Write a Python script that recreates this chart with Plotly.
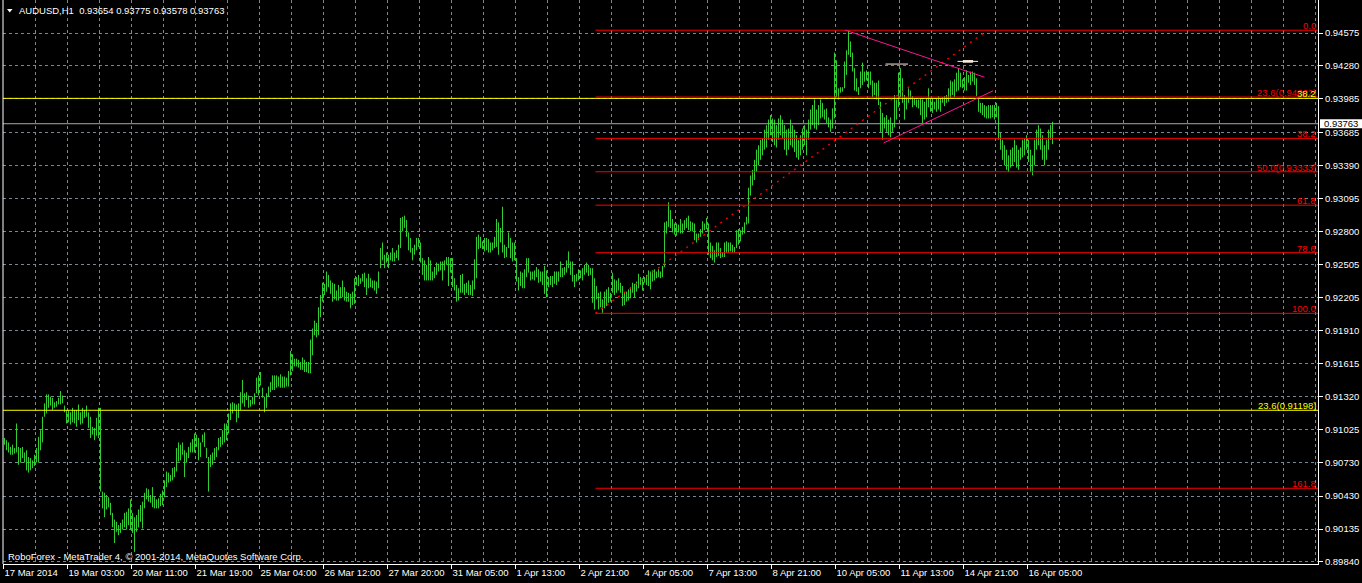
import plotly.graph_objects as go

# ---------------- data ----------------
symbol_title = "AUDUSD,H1"
last_ohlc = ["0.93654", "0.93775", "0.93578", "0.93763"]
bid_price = 0.93763
copyright_text = "RoboForex - MetaTrader 4, \u00a9 2001-2014, MetaQuotes Software Corp."

x_tick_bars = [0, 32, 64, 96, 128, 160, 192, 224, 256, 288, 320, 352, 384, 416, 448, 480, 512]
x_tick_labels = ["17 Mar 2014", "19 Mar 03:00", "20 Mar 11:00", "21 Mar 19:00", "25 Mar 04:00",
                 "26 Mar 12:00", "27 Mar 20:00", "31 Mar 05:00", "1 Apr 13:00", "2 Apr 21:00",
                 "4 Apr 05:00", "7 Apr 13:00", "8 Apr 21:00", "10 Apr 05:00", "11 Apr 13:00",
                 "14 Apr 21:00", "16 Apr 05:00"]
y_tick_values = [0.94575, 0.94280, 0.93985, 0.93685, 0.93390, 0.93095, 0.92800, 0.92505, 0.92205,
                 0.91910, 0.91615, 0.91320, 0.91025, 0.90730, 0.90430, 0.90135, 0.89840]
y_tick_labels = ["%.5f" % v for v in y_tick_values]

# H1 bar highs / lows in pips (x 0.0001)
high_pips = [
 9095,9093,9091,9087,9089,9086,9108,9087,9086,9087,9082,9084,9078,9077,9075,9080,9086,9096,9102,9114,
 9126,9134,9134,9132,9131,9127,9128,9131,9137,9133,9124,9120,9120,9118,9122,9120,9120,9125,9118,9122,
 9120,9124,9118,9114,9105,9104,9113,9122,9122,
 9047,9046,9044,9042,9037,9028,9022,9020,9017,9019,9022,9028,9029,9032,9040,9028,9024,9026,9031,9035,
 9038,9046,9050,9049,9044,9051,9042,9040,9041,9045,9048,9057,9065,9064,9062,9068,9069,9086,9091,9089,
 9091,9084,9082,9087,9091,9094,9099,9098,9095,9091,9098,9100,9086,9078,9080,9082,9086,9087,9095,9096,
 9102,9108,9108,9117,9126,9127,9126,9125,9126,9136,9147,9135,9136,9133,9129,9132,9135,9149,9151,9154,
 9140,9132,9135,9141,9145,9151,
 9151,9151,9150,9152,9150,9150,9149,9155,9173,9170,9166,9166,9165,9163,9167,9165,9163,9163,9183,9193,
 9200,9198,9212,9223,9234,9233,9244,9241,9236,9234,9233,9227,9232,9230,9236,9230,9226,9225,9224,9226,
 9238,9239,9241,9238,9242,9243,9238,9242,9238,9236,9236,9235,9244,9265,9270,9259,9261,9259,9261,9265,
 9261,9263,9268,9292,9293,9294,9290,9279,9274,9265,9268,9274,9274,9270,9256,9254,9250,9257,9254,9244,
 9248,9252,9251,9253,9253,9254,9257,9257,9256,9256,9238,9232,9229,9241,9242,9233,9234,9236,9232,9236,
 9255,9275,9277,9275,9271,9274,9274,9273,9270,9270,9275,9291,9288,9283,9302,9268,9266,9279,9274,9270,
 9270,9256,9239,9244,9243,9246,9256,9256,9244,9244,9245,9248,9246,9244,9244,9249,9245,9239,9240,9240,
 9244,9244,9244,9253,9247,9248,9254,9262,9253,9253,9241,9242,9246,9245,9247,9250,9252,9250,9247,9247,
 9238,9231,9225,9226,
 9219,9226,9228,9230,9225,9243,9237,9236,9238,9234,9231,9225,9226,9228,9230,9234,9233,9235,9242,9239,
 9238,9239,9241,9245,9244,9245,9246,9244,9246,9244,9249,9288,9289,9306,9299,9291,9287,9287,9286,9291,
 9287,9290,9292,9294,9289,9288,9287,9278,9278,9282,9289,9287,9292,9287,9270,9267,9263,9270,9270,9265,
 9261,9270,9271,9270,9270,9268,9266,9281,9282,9281,9284,9288,9293,9319,
 9330,9335,9344,9353,9357,9362,9363,9371,9375,9380,9384,9381,9380,9375,9381,9384,9380,9375,9371,9372,
 9380,9375,9371,9366,9362,9366,9372,9375,9371,9380,9389,9393,9398,9389,9393,9398,
 9395,9389,9390,9382,9380,9390,9440,9433,9408,9409,9409,9432,9442,9460,9450,9440,9426,9417,9409,9423,
 9431,9423,9424,9423,9423,9415,9413,9413,9415,9396,9386,9382,9384,9380,9382,9377,9402,9398,9422,9426,
 9417,9402,9400,9408,9406,9401,9399,9398,9398,9399,9398,9396,9399,9408,9399,9399,9396,9399,9401,9399,
 9400,9401,9402,9408,9415,9414,9416,9422,9426,9422,9416,9418,9424,9420,9423,9423,9422,9417,9399,9395,
 9395,9393,9392,9393,9393,9393,9393,9395,9392,9368,
 9362,9357,9353,9348,9353,9355,9362,9357,9353,9355,9362,9363,9366,9362,9353,9348,9362,9371,9375,9372,
 9366,9357,9362,9371,9375,9378]
low_pips = [
 9089,9084,9082,9080,9080,9081,9082,9071,9073,9077,9073,9066,9064,9066,9068,9070,9073,9073,9084,9091,
 9114,9117,9122,9124,9120,9122,9123,9125,9125,9126,9118,9108,9109,9107,9109,9108,9105,9111,9107,9108,
 9113,9114,9104,9095,9098,9093,9097,9095,9047,
 9032,9024,9031,9033,9026,9015,9001,9011,9008,9010,9013,9015,9013,9017,9013,9010,8993,9011,9015,9020,
 9014,9032,9040,9038,9037,9033,9032,9032,9032,9034,9035,9042,9051,9055,9056,9057,9060,9065,9074,9075,
 9080,9060,9073,9077,9082,9082,9082,9087,9075,9078,9091,9087,9077,9047,9069,9071,9075,9078,9084,9087,
 9089,9091,9093,9099,9111,9117,9120,9109,9113,9120,9126,9123,9129,9122,9123,9125,9125,9135,9133,9142,
 9131,9118,9122,9132,9136,9138,
 9138,9140,9141,9140,9140,9140,9141,9141,9151,9155,9159,9159,9158,9156,9156,9154,9154,9153,9153,9169,
 9187,9185,9187,9203,9217,9223,9226,9230,9224,9217,9219,9218,9218,9220,9221,9218,9217,9217,9211,9214,
 9215,9232,9231,9233,9235,9230,9223,9229,9230,9229,9227,9224,9229,9247,9254,9247,9252,9247,9254,9253,
 9253,9256,9254,9265,9280,9283,9275,9263,9261,9254,9259,9263,9266,9252,9241,9236,9236,9236,9236,9236,
 9238,9241,9244,9245,9236,9245,9250,9231,9243,9230,9227,9217,9218,9225,9225,9223,9225,9223,9223,9222,
 9228,9238,9264,9265,9264,9262,9263,9261,9261,9263,9265,9266,9259,9270,9261,9256,9257,9265,9256,9253,
 9254,9235,9227,9231,9229,9229,9239,9243,9236,9237,9236,9239,9234,9235,9232,9224,9221,9230,9232,9230,
 9233,9232,9235,9239,9239,9241,9243,9247,9241,9235,9230,9235,9236,9238,9236,9241,9243,9240,9241,9216,
 9210,9219,9210,9212,
 9207,9211,9213,9216,9217,9225,9223,9225,9227,9225,9213,9214,9217,9218,9220,9225,9221,9226,9229,9232,
 9227,9234,9232,9231,9228,9235,9236,9238,9239,9238,9239,9248,9278,9284,9283,9279,9277,9276,9279,9278,
 9278,9281,9283,9281,9280,9280,9272,9270,9272,9275,9278,9281,9282,9259,9256,9254,9252,9257,9258,9256,
 9257,9257,9261,9261,9262,9261,9261,9265,9268,9271,9277,9278,9286,9287,
 9312,9321,9326,9333,9339,9344,9348,9353,9355,9362,9366,9360,9357,9355,9362,9366,9363,9353,9348,9353,
 9357,9355,9351,9346,9344,9348,9353,9357,9348,9362,9371,9375,9372,9371,9375,9381,
 9382,9380,9377,9373,9369,9372,9381,9400,9398,9404,9405,9408,9420,9438,9436,9423,9406,9405,9402,9408,
 9411,9414,9415,9408,9411,9400,9402,9398,9393,9369,9362,9372,9369,9366,9364,9369,9373,9380,9391,9400,
 9395,9380,9389,9395,9398,9391,9393,9391,9390,9384,9377,9380,9382,9391,9387,9386,9389,9387,9389,9387,
 9395,9392,9395,9396,9399,9402,9400,9405,9406,9409,9408,9406,9406,9413,9411,9414,9411,9401,9387,9386,
 9384,9382,9381,9381,9381,9382,9380,9382,9362,9353,
 9344,9339,9335,9333,9337,9339,9342,9337,9335,9344,9346,9348,9353,9342,9333,9330,9339,9353,9357,9353,
 9344,9339,9344,9353,9362,9358]

# red Fibonacci (2 Apr low -> 10 Apr high)
fib_red_start_bar = 295.5
fib_red_p100 = 0.92066
fib_red_p0 = 0.94600
fib_red_levels = [0.0, 23.6, 38.2, 50.0, 61.8, 78.6, 100.0, 161.8]
fib_red_texts = ["0.0", "23.6(0.94002)", "38.2", "50.0(0.93333)", "61.8", "78.6", "100.0", "161.8"]
# yellow Fibonacci (large swing, only two levels visible)
fib_yel_p0 = 0.86685
fib_yel_p100 = 1.05808
fib_yel_levels = [23.6, 38.2]
fib_yel_texts = ["23.6(0.91198)", "38.2"]

# drawn objects (bar index, price)
trend_dotted = [(295.5, 0.92066), (491.5, 0.94600)]
pink_upper = [(420.5, 0.94600), (490.0, 0.94179)]
pink_lower = [(439.5, 0.93590), (494.3, 0.94058)]
white_seg1 = [(440.5, 0.94297), (451.8, 0.94297)]
white_seg2 = [(476.5, 0.94321), (486.8, 0.94321)]
white_box = [(479.2, 0.94309), (484.3, 0.94333)]

# ---------------- styling ----------------
BG = "#000000"
BAR = "#32cd32"
GRID = "#778899"
FONT = "Liberation Sans"
FS = 9.5
X_RANGE = [-0.75, 656.75]
Y_RANGE = [0.898220, 0.948704]

xs, ys = [], []
for i, (h, l) in enumerate(zip(high_pips, low_pips)):
    xs += [i, i, None]
    ys += [l / 10000.0, h / 10000.0, None]

fig = go.Figure()
fig.add_trace(go.Scatter(x=xs, y=ys, mode="lines", line=dict(color=BAR, width=1),
                         hoverinfo="skip", showlegend=False))

shapes = []
annots = []

# yellow fib lines (full width)
for lvl, txt in zip(fib_yel_levels, fib_yel_texts):
    p = fib_yel_p0 + lvl / 100.0 * (fib_yel_p100 - fib_yel_p0)
    shapes.append(dict(type="line", xref="x", yref="y", x0=X_RANGE[0], x1=X_RANGE[1], y0=p, y1=p,
                       line=dict(color="#ffff00", width=1)))

# red fib lines
for lvl, txt in zip(fib_red_levels, fib_red_texts):
    p = fib_red_p0 - lvl / 100.0 * (fib_red_p0 - fib_red_p100)
    shapes.append(dict(type="line", xref="x", yref="y", x0=fib_red_start_bar, x1=X_RANGE[1], y0=p, y1=p,
                       line=dict(color="#ff0000", width=1)))
    annots.append(dict(xref="paper", yref="y", x=1, y=p, xanchor="right", yanchor="bottom",
                       text=txt, showarrow=False, borderpad=0, xshift=-1, yshift=-2,
                       font=dict(family=FONT, size=FS, color="#ff0000")))
for lvl, txt in zip(fib_yel_levels, fib_yel_texts):
    p = fib_yel_p0 + lvl / 100.0 * (fib_yel_p100 - fib_yel_p0)
    annots.append(dict(xref="paper", yref="y", x=1, y=p, xanchor="right", yanchor="bottom",
                       text=txt, showarrow=False, borderpad=0, xshift=-1, yshift=-2,
                       font=dict(family=FONT, size=FS, color="#ffff00")))

# bid line
shapes.append(dict(type="line", xref="paper", yref="y", x0=0, x1=1, y0=bid_price, y1=bid_price,
                   line=dict(color="#a0a8b0", width=1)))

# dotted trend line
shapes.append(dict(type="line", xref="x", yref="y",
                   x0=trend_dotted[0][0], y0=trend_dotted[0][1], x1=trend_dotted[1][0], y1=trend_dotted[1][1],
                   line=dict(color="#ff0000", width=1.3, dash="2px,5px")))
# pink triangle lines
for seg in (pink_upper, pink_lower):
    shapes.append(dict(type="line", xref="x", yref="y", x0=seg[0][0], y0=seg[0][1], x1=seg[1][0], y1=seg[1][1],
                       line=dict(color="#ff1493", width=1)))
# white marks
for seg in (white_seg1, white_seg2):
    shapes.append(dict(type="line", xref="x", yref="y", x0=seg[0][0], y0=seg[0][1], x1=seg[1][0], y1=seg[1][1],
                       line=dict(color="#faebd7", width=1)))
shapes.append(dict(type="rect", xref="x", yref="y", x0=white_box[0][0], y0=white_box[0][1],
                   x1=white_box[1][0], y1=white_box[1][1], fillcolor="#faebd7", line=dict(width=0)))

# left border
shapes.append(dict(type="line", xref="paper", yref="paper", x0=0, x1=0, y0=0, y1=1,
                   line=dict(color="#ffffff", width=1)))

# bid price box on the axis
shapes.append(dict(type="rect", xref="paper", yref="y", xsizemode="pixel", xanchor=1, x0=2, x1=60,
                   ysizemode="pixel", yanchor=bid_price, y0=-4.5, y1=4.5,
                   fillcolor="#ffffff", line=dict(width=0)))
annots.append(dict(xref="paper", yref="y", x=1, y=bid_price, xanchor="left", yanchor="middle",
                   xshift=5, text="%.5f" % bid_price, showarrow=False, borderpad=0,
                   font=dict(family=FONT, size=FS, color="#000000")))

# title triangle + text
shapes.append(dict(type="path", xref="paper", yref="paper", xsizemode="pixel", ysizemode="pixel",
                   xanchor=0, yanchor=1, path="M 4,-9 L 9.5,-9 L 6.75,-12.5 Z",
                   fillcolor="#ffffff", line=dict(width=0)))
annots.append(dict(xref="paper", yref="paper", x=0, y=1, xanchor="left", yanchor="top",
                   xshift=15, yshift=-4, showarrow=False, borderpad=0,
                   text=symbol_title + "\u00a0\u00a0" + " ".join(last_ohlc),
                   font=dict(family=FONT, size=FS, color="#ffffff")))
# copyright
annots.append(dict(xref="paper", yref="paper", x=0, y=0, xanchor="left", yanchor="bottom",
                   xshift=4, yshift=1, showarrow=False, borderpad=0, text=copyright_text,
                   font=dict(family=FONT, size=FS, color="#ffffff")))

fig.update_layout(
    width=1362, height=583, autosize=False,
    margin=dict(l=3, r=44, t=0, b=19, pad=0),
    paper_bgcolor=BG, plot_bgcolor=BG,
    showlegend=False, shapes=shapes, annotations=annots,
    font=dict(family=FONT, size=FS, color="#ffffff"),
    xaxis=dict(range=X_RANGE, tickmode="array", tickvals=[b - 0.5 for b in x_tick_bars],
               ticktext=x_tick_labels, ticks="outside", ticklen=4, tickcolor="#ffffff",
               ticklabelposition="outside right", tickangle=0, automargin=False,
               showline=True, linecolor="#ffffff", linewidth=1,
               showgrid=True, gridcolor=GRID, griddash="3px,3px", gridwidth=1,
               minor=dict(tick0=-0.5, dtick=16, showgrid=True, gridcolor=GRID, griddash="3px,3px", ticks=""),
               zeroline=False, fixedrange=True,
               tickfont=dict(family=FONT, size=FS, color="#ffffff")),
    yaxis=dict(range=Y_RANGE, side="right", tickmode="array", tickvals=y_tick_values,
               ticktext=y_tick_labels, ticks="outside", ticklen=4, tickcolor="#ffffff",
               automargin=False,
               showline=True, linecolor="#ffffff", linewidth=1,
               showgrid=True, gridcolor=GRID, griddash="3px,3px", gridwidth=1,
               zeroline=False, fixedrange=True,
               tickfont=dict(family=FONT, size=FS, color="#ffffff")),
)

fig.write_html("out.html", config={"displayModeBar": False},
               post_script="document.body.style.margin='0';document.body.style.background='#000';")
